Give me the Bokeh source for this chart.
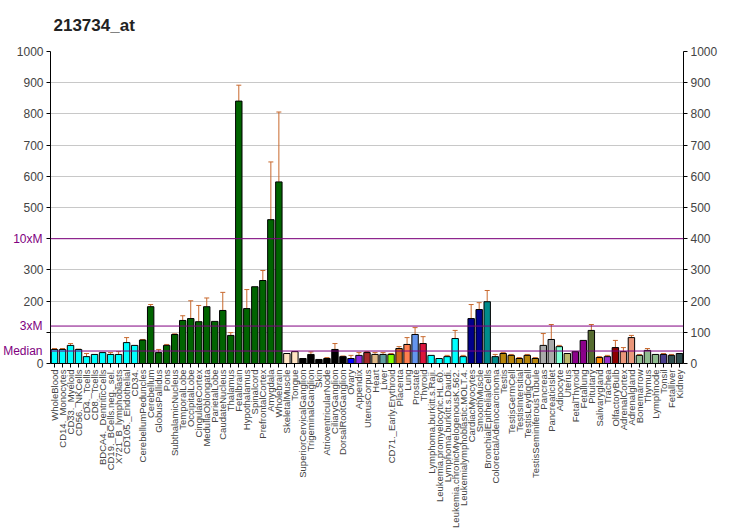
import numpy as np
from bokeh.plotting import figure
from bokeh.models import (ColumnDataSource, Range1d, LinearAxis, FixedTicker, Span,
                          Whisker, TeeHead)
from bokeh.embed import file_html
from bokeh.resources import INLINE

names = ["WholeBlood", "CD14._Monocytes", "CD33._Myeloid", "CD56._NKCells", "CD4._Tcells",
         "CD8._Tcells", "BDCA4._DentriticCells", "CD19._BCells.neg._sel.", "X721_B_lymphoblasts",
         "CD105._Endothelial", "CD34.", "CerebellumPeduncles", "Cerebellum", "GlobusPallidus",
         "Pons", "SubthalamicNucleus", "TemporalLobe", "OccipitalLobe", "CingulateCortex",
         "MedullaOblongata", "ParietalLobe", "CaudateNucleus", "Thalamus", "Fetalbrain",
         "Hypothalamus", "Spinalcord", "PrefrontalCortex", "Amygdala", "Wholebrain",
         "SkeletalMuscle", "Tongue", "SuperiorCervicalGanglion", "TrigeminalGanglion", "Skin",
         "AtrioventricularNode", "CiliaryGanglion", "DorsalRootGanglion", "Ovary", "Appendix",
         "UterusCorpus", "Heart", "Liver", "CD71._Early.Erythroid", "Placenta", "Lung",
         "Prostate", "Thyroid", "Lymphoma.burkitt.s.Raji.", "Leukemia.promyelocytic.HL.60.",
         "Lymphoma.burkitt.s.Daudi.", "Leukemia.chronicMyelogenousK.562.",
         "Leukemialymphoblastic.MOLT.4.", "CardiacMyocytes", "SmoothMuscle",
         "BronchialEpithelialCells", "ColorectalAdenocarcinoma", "Testis", "TestisGermCell",
         "TestisIntersitial", "TestisLeydigCell", "TestisSeminiferousTubule", "Pancreas",
         "PancreaticIslet", "Adipocyte", "Uterus", "FetalThyroid", "Fetallung", "Pituitary",
         "Salivarygland", "Trachea", "OlfactoryBulb", "AdrenalCortex", "Adrenalgland",
         "Bonemarrow", "Thymus", "Lymphnode", "Tonsil", "Fetalliver", "Kidney"]

values = [45, 45, 58, 45, 22, 29, 35, 29, 29, 67, 58,
          75, 182, 35, 58, 93, 138, 144, 134, 182, 135, 170, 90, 841, 176, 246, 266, 461, 582,
          32, 38, 16, 29, 13, 16, 45, 22, 16, 26, 35, 29, 29,
          29, 48, 61, 93, 64, 26, 16, 22, 80, 22, 144, 173, 198, 22, 32, 26, 16, 26, 16,
          58, 77, 54, 32, 38, 74, 106, 19, 22, 51, 38, 83, 26, 42, 29, 29, 26, 32]

upper = [48, 48, 64, 46, 32, None, None, 35, 38, 83, None,
         77, 189, 45, 61, 95, 153, 201, 186, 210, None, 228, 99, 892, 237, None, 298, 646, 806,
         None, None, None, 37, None, 19, 64, 24, 26, 35, 38, 35, 35,
         32, 54, 83, 115, 86, None, None, 26, 106, 26, 189, 195, 234, 29, 35, 29, 19, 29, 19,
         96, 125, 58, None, None, None, 125, 22, 26, 74, 51, 90, 29, 48, None, 32, 29, None]

colors = (["#00FFFF"] * 11 + ["#006400"] * 18 + ["#FFE4C4"] * 2 + ["#000000"] * 6 +
          ["#0000FF", "#8A2BE2", "#A52A2A", "#DEB887", "#5F9EA0", "#7FFF00", "#D2691E",
           "#FF7F50", "#6495ED", "#DC143C"] + ["#00FFFF"] * 5 + ["#00008B"] * 2 +
          ["#008B8B"] * 2 + ["#B8860B"] * 5 + ["#A9A9A9"] * 2 +
          ["#7FFFD4", "#BDB76B", "#8B008B", "#8B008B", "#556B2F", "#FF8C00", "#9932CC",
           "#8B0000", "#E9967A", "#E9967A"] + ["#8FBC8F"] * 3 + ["#483D8B"] +
          ["#2F4F4F"] * 2)

median = 40
y_ticks = [0, 100, 200, 300, 400, 500, 600, 700, 800, 900, 1000]
ref_labels = ["Median", "3xM", "10xM"]
ref_values = [median, 3 * median, 10 * median]

FONT = "Liberation Sans"
PURPLE = "#800080"
n = len(names)
xs = np.arange(1, n + 1)
up = [np.nan if u is None else u for u in upper]
src = ColumnDataSource(dict(x=xs, v=values, up=up, c=colors))

p = figure(width=732, height=530, output_backend="svg", toolbar_location=None,
           x_range=Range1d(0.5, n + 0.5), y_range=Range1d(0, 1000),
           min_border_left=50, min_border_right=49, min_border_top=50, min_border_bottom=167)
p.outline_line_color = None
p.background_fill_color = "white"
p.border_fill_color = "white"

p.title.text = "213734_at"
p.title.text_font = FONT
p.title.text_font_size = "17px"
p.title.text_font_style = "bold"
p.title.text_color = "#222222"
p.title.offset = 3
p.title.standoff = 30
p.title.vertical_align = "top"

p.xgrid.grid_line_color = None
p.ygrid.grid_line_color = "#C8C8C8"
p.ygrid.ticker = FixedTicker(ticks=y_ticks[1:])

# bottom axis
xa = p.xaxis[0]
xa.ticker = FixedTicker(ticks=list(xs))
xa.major_label_overrides = {int(i): nm for i, nm in zip(xs, names)}
xa.major_label_orientation = np.pi / 2
xa.major_label_text_font = FONT
xa.major_label_text_font_size = "9.5px"
xa.major_label_standoff = 2
xa.major_tick_out = 4
xa.major_tick_in = 0
xa.minor_tick_out = 0
xa.minor_tick_in = 0
xa.axis_line_color = "black"

# left axis (numbers)
ya = p.yaxis[0]
ya.ticker = FixedTicker(ticks=y_ticks)
ya.major_label_overrides = {100: "", 400: ""}
ya.major_label_text_font = FONT
ya.major_label_text_font_size = "12px"
ya.major_tick_out = 4
ya.major_tick_in = 0
ya.minor_tick_out = 0
ya.minor_tick_in = 0
ya.major_label_standoff = 3

# second left axis for the purple median labels, pulled back next to the frame
pa = LinearAxis(ticker=FixedTicker(ticks=ref_values),
                major_label_overrides={v: t for v, t in zip(ref_values, ref_labels)},
                major_label_text_font=FONT, major_label_text_font_size="12px",
                major_label_text_color=PURPLE, major_tick_out=0, major_tick_in=0,
                minor_tick_out=0, minor_tick_in=0, axis_line_color=None,
                major_label_standoff=-29)
p.add_layout(pa, "left")

# right axis
ra = LinearAxis(ticker=FixedTicker(ticks=y_ticks), major_label_text_font=FONT,
                major_label_text_font_size="12px", major_tick_out=4, major_tick_in=0,
                minor_tick_out=0, minor_tick_in=0, major_label_standoff=3)
p.add_layout(ra, "right")

p.vbar(x="x", top="v", width=0.8, bottom=0, fill_color="c", line_color="black",
       line_width=1, source=src)

w = Whisker(source=src, base="x", upper="up", lower="v", line_color="#C8692E", line_width=1,
            upper_head=TeeHead(size=5, line_color="#C8692E", line_width=1), lower_head=None)
p.add_layout(w)

for yv in ref_values:
    p.add_layout(Span(location=yv, dimension="width", line_color=PURPLE, line_width=1))

open("out.html", "w").write(file_html(p, INLINE))
